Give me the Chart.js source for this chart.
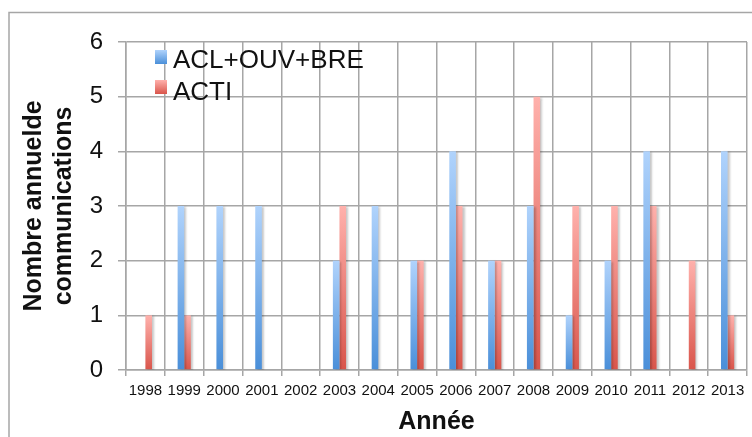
<!DOCTYPE html>
<html>
<head>
<meta charset="utf-8">
<script src="https://cdn.jsdelivr.net/npm/chart.js@4.4.1/dist/chart.umd.min.js"></script>
<style>
  html, body { margin: 0; padding: 0; background: #fff; }
  #wrap { width: 752px; height: 437px; position: relative; }
</style>
</head>
<body>
<div id="wrap"><canvas id="c" width="752" height="437"></canvas></div>
<script>
const years = ['1998','1999','2000','2001','2002','2003','2004','2005','2006','2007','2008','2009','2010','2011','2012','2013'];
const aclOuvBre = [0, 3, 3, 3, 0, 2, 3, 2, 4, 2, 3, 1, 2, 4, 0, 4];
const acti      = [1, 1, 0, 0, 0, 3, 0, 2, 3, 2, 5, 3, 3, 3, 2, 1];
const yTicks = [0, 1, 2, 3, 4, 5, 6];
const seriesNames = ['ACL+OUV+BRE', 'ACTI'];

const FONT = "'Liberation Sans', Arial, sans-serif";

function barGradient(top, bottom) {
  return function(ctx) {
    const chart = ctx.chart;
    const y = chart.scales && chart.scales.y;
    if (!y || ctx.type !== 'data') return bottom;
    const v = ctx.raw || 0;
    const y0 = y.getPixelForValue(0);
    const y1 = y.getPixelForValue(v);
    if (!isFinite(y0) || !isFinite(y1) || y0 === y1) return bottom;
    const g = chart.ctx.createLinearGradient(0, y1, 0, y0);
    g.addColorStop(0, top);
    g.addColorStop(1, bottom);
    return g;
  };
}

const blueTop = '#b0d3fc', blueBot = '#4a8fd9';
const redTop = '#ffb1ac', redBot = '#d9554b';

const framePlugin = {
  id: 'frame',
  afterDraw(chart) {
    const c = chart.ctx;
    c.save();
    c.strokeStyle = '#a6a6a6';
    c.lineWidth = 1.5;
    c.strokeRect(9, 12.5, 760, 440);
    c.restore();
  }
};

const shadowPlugin = {
  id: 'barShadow',
  beforeDatasetsDraw(chart) {
    const c = chart.ctx;
    c.save();
    c.shadowColor = 'rgba(0,0,0,0.22)';
    c.shadowOffsetX = 2;
    c.shadowOffsetY = 1;
    c.shadowBlur = 2;
  },
  afterDatasetsDraw(chart) {
    chart.ctx.restore();
  }
};

const legendPlugin = {
  id: 'innerLegend',
  afterDatasetsDraw(chart) {
    const c = chart.ctx;
    c.save();
    const items = [
      { label: chart.data.datasets[0].label, top: blueTop, bot: blueBot },
      { label: chart.data.datasets[1].label, top: redTop, bot: redBot }
    ];
    c.font = '26px ' + FONT;
    c.textBaseline = 'alphabetic';
    c.textAlign = 'left';
    items.forEach((it, i) => {
      const by = 50 + i * 30;
      const g = c.createLinearGradient(0, by, 0, by + 14);
      g.addColorStop(0, it.top);
      g.addColorStop(1, it.bot);
      c.fillStyle = g;
      c.fillRect(155, by, 12, 14);
      c.fillStyle = '#111';
      c.fillText(it.label, 173, 68 + i * 32);
    });
    c.restore();
  }
};

new Chart(document.getElementById('c'), {
  type: 'bar',
  data: {
    labels: years,
    datasets: [
      { label: seriesNames[0], data: aclOuvBre, backgroundColor: barGradient(blueTop, blueBot), borderWidth: 0 },
      { label: seriesNames[1], data: acti, backgroundColor: barGradient(redTop, redBot), borderWidth: 0 }
    ]
  },
  options: {
    responsive: false,
    animation: false,
    devicePixelRatio: 1,
    layout: { padding: { left: 0, top: 42, right: 5, bottom: 0 } },
    datasets: { bar: { categoryPercentage: 0.34, barPercentage: 1.0 } },
    plugins: {
      legend: { display: false },
      tooltip: { enabled: false }
    },
    scales: {
      x: {
        grid: { color: '#a6a6a6', lineWidth: 1.5, offset: true, tickLength: 6 },
        border: { color: '#a6a6a6', width: 1.5 },
        ticks: { autoSkip: false, maxRotation: 0, minRotation: 0, color: '#111', font: { family: FONT, size: 15 }, padding: 6 },
        title: { display: true, text: 'Année', color: '#111', font: { family: FONT, size: 25, weight: 'bold' }, padding: { top: 9, bottom: 0 } },
        afterFit(s) { s.height = 67; }
      },
      y: {
        min: 0, max: 6,
        afterBuildTicks(s) { s.ticks = yTicks.map(v => ({ value: v })); },
        grid: { color: '#a6a6a6', lineWidth: 1.5, tickLength: 8 },
        border: { color: '#a6a6a6', width: 1.5 },
        ticks: { color: '#111', font: { family: FONT, size: 24 }, padding: 15 },
        title: { display: true, text: ['Nombre annuelde', 'communications'], color: '#111', font: { family: FONT, size: 25, weight: 'bold' }, padding: { top: 19, bottom: 0 }, lineHeight: 1.25 },
        afterFit(s) { s.width = 126; }
      }
    }
  },
  plugins: [framePlugin, shadowPlugin, legendPlugin]
});
</script>
</body>
</html>
